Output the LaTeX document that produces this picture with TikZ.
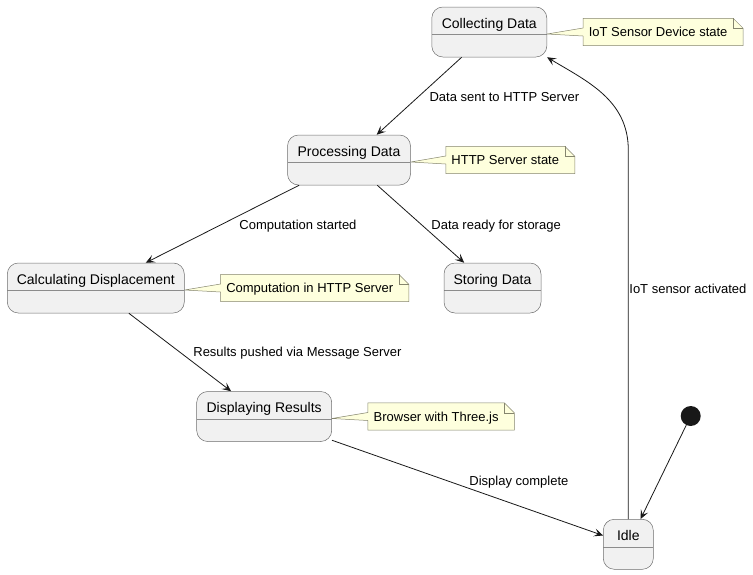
\documentclass[tikz,border=0pt]{standalone}
\usepackage{fontspec}
\setmainfont{Liberation Sans}
\usetikzlibrary{positioning,arrows.meta,backgrounds}

\definecolor{statefill}{HTML}{F1F1F1}
\definecolor{stateline}{HTML}{6E6E6E}
\definecolor{dividerline}{HTML}{8C8C8C}
\definecolor{notefill}{HTML}{FEFFDD}
\definecolor{noteline}{HTML}{85856E}
\definecolor{arrowline}{HTML}{181818}

\tikzstyle{state_box} = [rectangle, rounded corners=11pt, draw=stateline, line width=0.5pt,
fill=statefill, font=\fontsize{14pt}{16pt}\selectfont, minimum height=50pt,
inner ysep=0pt, text height=21pt, text depth=29pt,
path picture={\draw[dividerline, line width=0.5pt] ([yshift=22.5pt]path picture bounding box.south west) -- ([yshift=22.5pt]path picture bounding box.south east);}]
\tikzstyle{note_box} = [rectangle, inner xsep=5.5pt, inner ysep=0pt, minimum height=27pt,
font=\fontsize{13pt}{15pt}\selectfont, text height=11pt, text depth=1.6pt]
\tikzstyle{note_line} = [draw=noteline, line width=0.5pt, fill=notefill]
\tikzstyle{init_dot} = [circle, fill=arrowline, minimum size=20pt, inner sep=0pt]
\tikzstyle{line} = [draw=arrowline, line width=0.8pt, -{Stealth[length=9pt,width=8pt,inset=4pt]}]
\tikzstyle{edge_label} = [font=\fontsize{13pt}{15pt}\selectfont, anchor=west, inner xsep=0pt,
text height=11pt, text depth=1.6pt]

% note outline with its tail to the state
\newcommand{\notetail}[2]{%
  \draw[note_line] ([yshift=4pt]#1.west) -- ([yshift=-2pt]#2.east) -- ([yshift=-4pt]#1.west)
    -- (#1.south west) -- ([xshift=10pt]#1.south east) -- ([xshift=10pt,yshift=-10pt]#1.north east)
    -- (#1.north east) -- (#1.north west) -- cycle;
  \draw[note_line, fill=none] (#1.north east) -- ([yshift=-10pt]#1.north east) -- ([xshift=10pt,yshift=-10pt]#1.north east);
}

\begin{document}
\begin{tikzpicture}[x=1pt, y=-1pt]
	\useasboundingbox (0,0) rectangle (753,574);

	%Nodes
	\node [state_box, minimum width=115pt] (collect) at (489.3,32) {Collecting Data};
	\node [state_box, minimum width=123pt] (process) at (349,160) {Processing Data};
	\node [state_box, minimum width=177pt] (calc) at (95.8,288) {Calculating Displacement};
	\node [state_box, minimum width=97pt] (store) at (492.5,288) {Storing Data};
	\node [state_box, minimum width=135pt] (display) at (264.2,416.5) {Displaying Results};
	\node [state_box, minimum width=50pt] (idle) at (628.3,544.3) {Idle};
	\node [init_dot] (init) at (690.7,416) {};

	%Notes
	\node [note_box, right=36pt of collect] (note_collect) {IoT Sensor Device state};
	\node [note_box, right=35pt of process] (note_process) {HTTP Server state};
	\node [note_box, right=36pt of calc] (note_calc) {Computation in HTTP Server};
	\node [note_box, right=36pt of display] (note_display) {Browser with Three.js};

	\begin{pgfonlayer}{background}
		\notetail{note_collect}{collect}
		\notetail{note_process}{process}
		\notetail{note_calc}{calc}
		\notetail{note_display}{display}
	\end{pgfonlayer}

	%Lines
	\path [line] (collect) -- node [edge_label, xshift=10pt, yshift=-1pt] {Data sent to HTTP Server} (process);
	\path [line] (process) -- node [edge_label, xshift=16.6pt, yshift=-1pt] {Computation started} (calc);
	\path [line] (process) -- node [edge_label, xshift=10.3pt, yshift=-1pt] {Data ready for storage} (store);
	\path [line] (calc) -- node [edge_label, xshift=13pt] {Results pushed via Message Server} (display);
	\path [line] (display) -- node [edge_label, xshift=1.5pt, yshift=7pt] {Display complete} (idle);
	\path [line] (init) -- (idle);
	\path [line] (idle.north) -- node [edge_label, pos=0.624, xshift=0.7pt] {IoT sensor activated} ++(0,-369)
		.. controls ++(0,-50) and ([xshift=40pt,yshift=-24pt]collect.south east) .. (collect.south east);

\end{tikzpicture}
\end{document}
